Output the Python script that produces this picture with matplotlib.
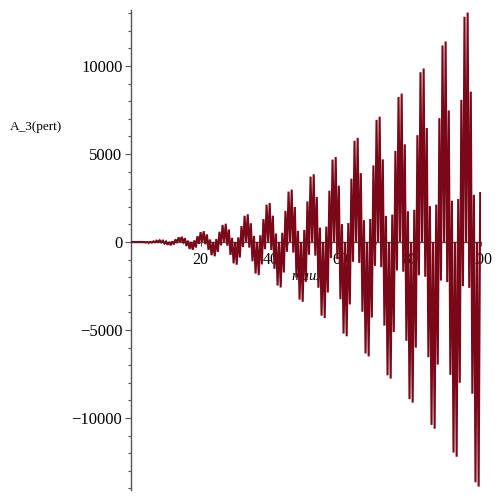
import matplotlib
matplotlib.use("Agg")
import matplotlib.pyplot as plt
from matplotlib.ticker import MultipleLocator, FixedLocator

# Turning points of the curve (x = maux, y = A_3(pert))
maux = [
    0.00, 0.22, 0.67, 1.12, 1.57, 2.02, 2.47, 2.92, 3.37, 3.81, 4.26, 4.71, 5.16, 5.61, 6.06,
    6.51, 6.96, 7.41, 7.85, 8.30, 8.75, 9.20, 9.65, 10.10, 10.55, 11.00, 11.44, 11.89, 12.34,
    12.79, 13.24, 13.69, 14.14, 14.59, 15.03, 15.48, 15.93, 16.38, 16.83, 17.28, 17.73, 18.18, 18.63,
    19.07, 19.52, 19.97, 20.42, 20.87, 21.32, 21.77, 22.22, 22.66, 23.11, 23.56, 24.01, 24.46, 24.91,
    25.36, 25.81, 26.25, 26.70, 27.15, 27.60, 28.05, 28.50, 28.95, 29.40, 29.85, 30.29, 30.74, 31.19,
    31.64, 32.09, 32.54, 32.99, 33.44, 33.88, 34.33, 34.78, 35.23, 35.68, 36.13, 36.58, 37.03, 37.47,
    37.92, 38.37, 38.82, 39.27, 39.72, 40.17, 40.62, 41.07, 41.51, 41.96, 42.41, 42.86, 43.31, 43.76,
    44.21, 44.66, 45.10, 45.55, 46.00, 46.45, 46.90, 47.35, 47.80, 48.25, 48.69, 49.14, 49.59, 50.04,
    50.49, 50.94, 51.39, 51.84, 52.29, 52.73, 53.18, 53.63, 54.08, 54.53, 54.98, 55.43, 55.88, 56.32,
    56.77, 57.22, 57.67, 58.12, 58.57, 59.02, 59.47, 59.91, 60.36, 60.81, 61.26, 61.71, 62.16, 62.61,
    63.06, 63.51, 63.95, 64.40, 64.85, 65.30, 65.75, 66.20, 66.65, 67.10, 67.54, 67.99, 68.44, 68.89,
    69.34, 69.79, 70.24, 70.69, 71.13, 71.58, 72.03, 72.48, 72.93, 73.38, 73.83, 74.28, 74.73, 75.17,
    75.62, 76.07, 76.52, 76.97, 77.42, 77.87, 78.32, 78.76, 79.21, 79.66, 80.11, 80.56, 81.01, 81.46,
    81.91, 82.35, 82.80, 83.25, 83.70, 84.15, 84.60, 85.05, 85.50, 85.95, 86.39, 86.84, 87.29, 87.74,
    88.19, 88.64, 89.09, 89.54, 89.98, 90.43, 90.88, 91.33, 91.78, 92.23, 92.68, 93.13, 93.57, 94.02,
    94.47, 94.92, 95.37, 95.82, 96.27, 96.72, 97.17, 97.61, 98.06, 98.51, 98.96, 99.41, 99.86,
]
a3_pert = [
    0, 0, 0, 2, 0, 6, -2, 8, -10, 4, -26, 0, -37, 9, -33,
    38, -13, 77, 0, 97, -21, 77, -84, 28, -157, 0, -184, 39, -138,
    148, -49, 264, 0, 299, -63, 217, -230, 75, -398, 0, -442, 92, -314,
    329, -106, 561, 0, 613, -127, 429, -447, 143, -752, 0, -811, 167, -561,
    582, -186, 970, 0, 1037, -212, 712, -735, 234, -1216, 0, -1291, 263, -880,
    906, -287, 1489, 0, 1573, -320, 1066, -1095, 346, -1791, 0, -1882, 382, -1271,
    1301, -410, 2120, 0, 2219, -450, 1493, -1526, 480, -2477, 0, -2584, 523, -1732,
    1768, -556, 2862, 0, 2977, -601, 1990, -2028, 637, -3274, 0, -3397, 685, -2265,
    2306, -723, 3715, 0, 3846, -775, 2559, -2602, 815, -4183, 0, -4322, 870, -2870,
    2916, -912, 4679, 0, 4825, -970, 3199, -3248, 1015, -5202, 0, -5357, 1076, -3546,
    3597, -1124, 5754, 0, 5916, -1188, 3911, -3965, 1238, -6333, 0, -6503, 1305, -4294,
    4350, -1357, 6940, 0, 7118, -1428, 4694, -4753, 1482, -7574, 0, -7761, 1556, -5113,
    5174, -1612, 8237, 0, 8431, -1689, 5549, -5613, 1748, -8927, 0, -9129, 1828, -6003,
    6069, -1890, 9645, 0, 9855, -1973, 6475, -6544, 2037, -10391, 0, -10609, 2123, -6965,
    7036, -2189, 11164, 0, 11390, -2278, 7472, -7546, 2347, -11965, 0, -12200, 2440, -7998,
    8074, -2510, 12795, 0, 13037, -2606, 8541, -8620, 2679, -13651, 0, -13901, 2778,
]

x_ticks = [20, 40, 60, 80, 100]
y_ticks = [-10000, -5000, 0, 5000, 10000]
y_ticklabels = ["\u221210000", "\u22125000", "0", "5000", "10000"]

serif = ["Liberation Serif", "DejaVu Serif"]
axis_col = "#555555"

fig = plt.figure(figsize=(5, 5), dpi=100)
ax = fig.add_axes([0.2614, 0.02, 0.70, 0.96])
ax.plot(maux, a3_pert, color="#7a0818", lw=1.5, zorder=3, solid_joinstyle="miter")

ax.set_xlim(0, 100)
ax.set_ylim(-14090, 13180)

for s in ["top", "right"]:
    ax.spines[s].set_visible(False)
ax.spines["bottom"].set_position(("data", 0))
ax.spines["bottom"].set_color(axis_col)
ax.spines["left"].set_color(axis_col)
ax.spines["bottom"].set_linewidth(1.0)
ax.spines["left"].set_linewidth(1.0)

ax.xaxis.set_major_locator(FixedLocator(x_ticks))
ax.set_xticklabels([str(v) for v in x_ticks], fontfamily=serif, fontsize=11.5)
ax.yaxis.set_major_locator(FixedLocator(y_ticks))
ax.set_yticklabels(y_ticklabels, fontfamily=serif, fontsize=12)
ax.yaxis.set_minor_locator(MultipleLocator(1000))
ax.xaxis.set_minor_locator(MultipleLocator(5))

ax.tick_params(axis="y", which="major", direction="out", length=4, width=0.8, color=axis_col, pad=2)
ax.tick_params(axis="y", which="minor", direction="out", length=2.5, width=0.8, color=axis_col)
ax.tick_params(axis="x", which="major", direction="out", length=3, width=0.8, color=axis_col, pad=4)
ax.tick_params(axis="x", which="minor", direction="out", length=1.5, width=0.6, color=axis_col)

ax.set_xlabel("maux", fontfamily=serif, fontstyle="italic", fontsize=10.5)
ax.xaxis.set_label_coords(0.504, 0.444)
ax.xaxis.label.set_verticalalignment("center")

fig.text(36 / 500, 1 - 127 / 500, "A_3(pert)", fontfamily=serif, fontsize=9.5,
         ha="center", va="center")

fig.savefig("out.png", dpi=100)
